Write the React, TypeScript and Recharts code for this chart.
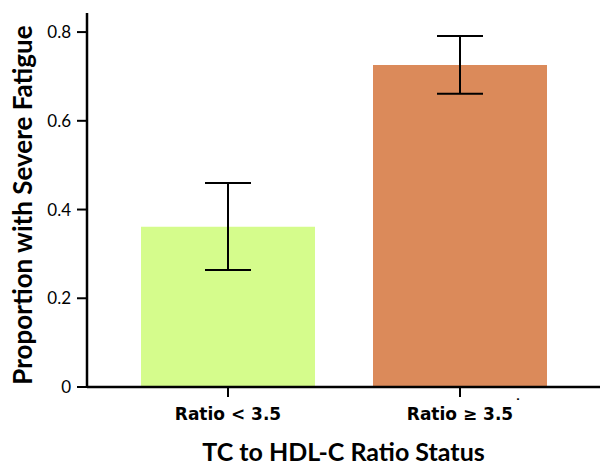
import React from "react";
import { BarChart, Bar, XAxis, YAxis, ErrorBar, Cell } from "recharts";

const categories = ["Ratio < 3.5", "Ratio \u2265 3.5"];
const superscripts = ["", "\u02D9"];
const proportions = [0.361, 0.726];
const lowerBounds = [0.264, 0.661];
const upperBounds = [0.46, 0.791];
const barColors = ["#D5FC8C", "#DB8A5A"];
const yTicks = [0, 0.2, 0.4, 0.6, 0.8];

const data = categories.map((c, i) => ({
  name: c,
  value: proportions[i],
  err: [proportions[i] - lowerBounds[i], upperBounds[i] - proportions[i]],
}));

const FONT = "Lato, 'Open Sans', sans-serif";
const TICK_FONT = "'DejaVu Sans', sans-serif";

const XTick = (props: any) => {
  const { x, y, payload, index } = props;
  const sup = superscripts[index] || "";
  return (
    <g transform={`translate(${x},${y})`}>
      <text x={0} y={0} dy={21} textAnchor="middle" fontFamily={TICK_FONT} fontWeight={700} fontSize={17} fill="#000">
        {payload.value}
      </text>
      {sup ? (
        <text x={58} y={0} dy={10} textAnchor="middle" fontFamily={TICK_FONT} fontWeight={700} fontSize={14} fill="#000">
          {sup}
        </text>
      ) : null}
    </g>
  );
};

export default function App() {
  return (
    <div style={{ position: "absolute", left: 0, top: 0, background: "#fff" }}>
      <BarChart
        width={600}
        height={463}
        data={data}
        margin={{ top: 13, right: 0, bottom: 0, left: 0 }}
      >
        <XAxis
          dataKey="name"
          height={76}
          padding={{ left: 25, right: 24 }}
          axisLine={{ stroke: "#000", strokeWidth: 2.5 }}
          tickLine={{ stroke: "#000", strokeWidth: 2 }}
          tickSize={10}
          tick={<XTick />}
          interval={0}
          label={{
            value: "TC to HDL-C Ratio Status",
            position: "insideBottom",
            offset: 0,
            dy: -2,
            style: { fontFamily: FONT, fontWeight: 700, fontSize: 25, fill: "#000" },
          }}
        />
        <YAxis
          width={87}
          domain={[0, 0.843]}
          ticks={yTicks}
          tickFormatter={(v: number) => (v === 0 ? "0" : v.toFixed(1))}
          axisLine={{ stroke: "#000", strokeWidth: 2.5 }}
          tickLine={{ stroke: "#000", strokeWidth: 2 }}
          tickSize={10}
          tickMargin={6}
          tick={{ fontFamily: FONT, fontSize: 17, fill: "#000" }}
          label={{
            value: "Proportion with Severe Fatigue",
            angle: -90,
            position: "insideLeft",
            offset: 0,
            dx: 23,
            dy: 5,
            style: { fontFamily: FONT, fontWeight: 700, fontSize: 26, fill: "#000", textAnchor: "middle" },
          }}
        />
        <Bar dataKey="value" barSize={174} isAnimationActive={false}>
          {data.map((d, i) => (
            <Cell key={d.name} fill={barColors[i]} />
          ))}
          <ErrorBar dataKey="err" width={23} stroke="#000" strokeWidth={2} direction="y" />
        </Bar>
      </BarChart>
    </div>
  );
}
